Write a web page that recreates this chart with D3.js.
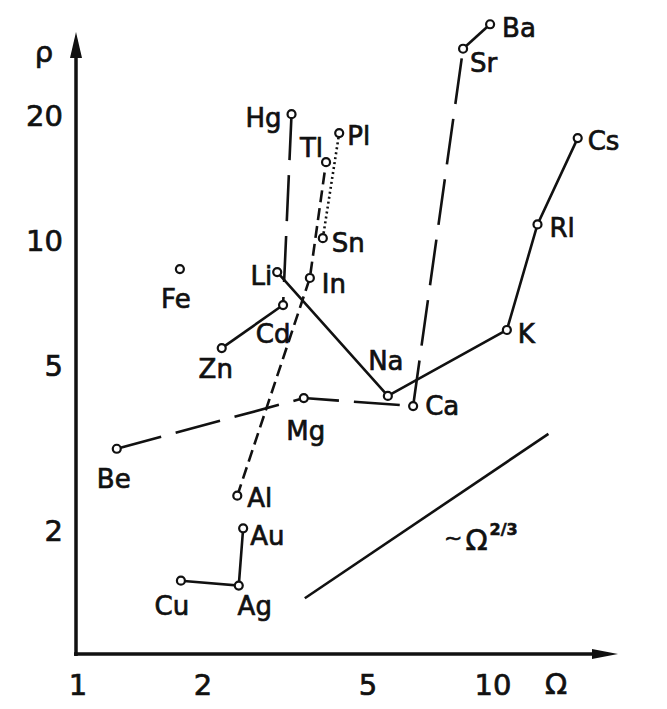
<!DOCTYPE html>
<meta charset="utf-8">
<style>
body { margin: 0; background: #fff; }
svg { font-family: "DejaVu Sans", sans-serif; }
.chain { fill: none; stroke: #111; stroke-width: 2.6px; }
.pt { fill: #fff; stroke: #111; stroke-width: 2.2px; }
.lbl { font-size: 26px; fill: #111; stroke: #111; stroke-width: 0.7px; }
.tick { font-size: 29px; fill: #111; stroke: #111; stroke-width: 0.7px; }
</style>
<svg width="667" height="709"></svg>
<script src="https://d3js.org/d3.v7.min.js"></script>
<script>

// element, atomic volume Omega, resistivity rho (log-log)
var elements = ["Li", "Na", "K", "Rl", "Cs", "Be", "Mg", "Ca", "Sr", "Ba",
                "Zn", "Cd", "Hg", "Al", "In", "Tl", "Sn", "Pl", "Cu", "Ag", "Au", "Fe"];
var omega = [3.02, 5.58, 10.8, 12.8, 16.0, 1.24, 3.50, 6.42, 8.47, 9.84,
             2.22, 3.12, 3.27, 2.42, 3.62, 3.96, 3.89, 4.26, 1.77, 2.44, 2.50, 1.76];
var rho = [8.37, 4.21, 6.07, 10.9, 17.6, 3.14, 4.16, 3.98, 28.9, 33.1,
           5.49, 6.97, 20.1, 2.42, 8.10, 15.4, 10.1, 18.1, 1.51, 1.47, 2.02, 8.51];

// which elements are joined, and how
var solidChains = [["Li", "Na", "K", "Rl", "Cs"], ["Zn", "Cd"], ["Sr", "Ba"], ["Cu", "Ag", "Au"]];
var longDashChains = [["Hg", "Cd"], ["Be", "Mg", "Ca"], ["Ca", "Sr"]];
var shortDashChains = [["Al", "In", "Tl"]];
var dottedChains = [["Sn", "Pl"]];

// ~ Omega^(2/3) guide line
var refOmega = [3.52, 13.6];
var refRho = [1.37, 3.41];

var xTicks = [1, 2, 5, 10];
var yTicks = [2, 5, 10, 20];

// label placement (anchor, dx, dy from the point)
var labelPos = {
  Hg: ["end", -10, 13], Tl: ["end", -3, -5], Pl: ["start", 8, 12], Sn: ["start", 9, 14],
  Li: ["end", -5, 13], In: ["start", 12, 15], Cd: ["middle", -10, 38], Zn: ["middle", -6, 30],
  Na: ["middle", -2, -26], Mg: ["middle", 2, 42], Ca: ["start", 12, 9], Fe: ["middle", -4, 39],
  Be: ["middle", -3, 39], Al: ["start", 10, 11], Au: ["start", 7, 17], Cu: ["middle", -9, 34],
  Ag: ["middle", 16, 29], Ba: ["start", 12, 13], Sr: ["start", 7, 23], Cs: ["start", 10, 12],
  Rl: ["start", 12, 13], K: ["start", 11, 13]
};

var svg = d3.select("svg");

var x = d3.scaleLog().domain([1, 10]).range([78, 493]);
var y = d3.scaleLog().domain([1, 10]).range([655, 240]);

var pts = elements.map(function(e, i) { return {name: e, o: omega[i], r: rho[i]}; });
var byName = {};
pts.forEach(function(d) { byName[d.name] = d; });

var line = d3.line()
    .x(function(d) { return x(d.o); })
    .y(function(d) { return y(d.r); });

// axes
var x0 = 76, y0 = 654;
svg.append("line").attr("x1", x0).attr("y1", y0 + 2).attr("x2", x0).attr("y2", 55)
    .attr("stroke", "#111").attr("stroke-width", 3.5);
svg.append("path").attr("d", "M" + (x0 - 6) + ",58L" + x0 + ",32L" + (x0 + 6) + ",58Z").attr("fill", "#111");
svg.append("line").attr("x1", x0 - 2).attr("y1", y0).attr("x2", 595).attr("y2", y0)
    .attr("stroke", "#111").attr("stroke-width", 3.5);
svg.append("path").attr("d", "M592," + (y0 - 5) + "L618," + y0 + "L592," + (y0 + 5) + "Z").attr("fill", "#111");

svg.append("g").selectAll("text")
  .data(xTicks)
  .enter().append("text")
    .attr("class", "tick")
    .attr("x", function(d) { return x(d); })
    .attr("y", 695)
    .attr("text-anchor", "middle")
    .text(function(d) { return d; });

svg.append("g").selectAll("text")
  .data(yTicks)
  .enter().append("text")
    .attr("class", "tick")
    .attr("x", 63)
    .attr("y", function(d) { return y(d) + 11; })
    .attr("text-anchor", "end")
    .text(function(d) { return d; });

svg.append("text").attr("class", "tick").attr("x", 556).attr("y", 694)
    .attr("text-anchor", "middle").text("Ω");
svg.append("text").attr("class", "tick").attr("x", 44).attr("y", 62)
    .attr("text-anchor", "middle").text("ρ");

// connecting lines
function drawChains(chains, dash) {
  svg.append("g").selectAll("path")
    .data(chains)
    .enter().append("path")
      .attr("class", "chain")
      .attr("stroke-dasharray", dash)
      .attr("stroke-width", dash == "2,3" ? 2.4 : 2.6)
      .attr("d", function(c) { return line(c.map(function(n) { return byName[n]; })); });
}
drawChains(solidChains, null);
drawChains(longDashChains, "46,15");
drawChains(shortDashChains, "12,6");
drawChains(dottedChains, "2,3");

// guide line
svg.append("path")
    .attr("class", "chain")
    .attr("d", line(refOmega.map(function(o, i) { return {o: o, r: refRho[i]}; })));

var guide = svg.append("text").attr("x", 444).attr("y", 550).attr("fill", "#111")
    .attr("stroke", "#111").attr("stroke-width", 0.6);
guide.append("tspan").attr("font-size", "22px").attr("dy", -5).text("~");
guide.append("tspan").attr("font-size", "29px").attr("dx", 3).attr("dy", 5).text("Ω");
guide.append("tspan").attr("font-size", "16px").attr("font-weight", "bold").attr("dx", 2).attr("dy", -15).text("2/3");

// points
svg.append("g").selectAll("circle")
  .data(pts)
  .enter().append("circle")
    .attr("class", "pt")
    .attr("r", 4)
    .attr("cx", function(d) { return x(d.o); })
    .attr("cy", function(d) { return y(d.r); });

// labels
svg.append("g").selectAll("text")
  .data(pts)
  .enter().append("text")
    .attr("class", "lbl")
    .attr("text-anchor", function(d) { return labelPos[d.name][0]; })
    .attr("x", function(d) { return x(d.o) + labelPos[d.name][1]; })
    .attr("y", function(d) { return y(d.r) + labelPos[d.name][2]; })
    .text(function(d) { return d.name; });

</script>
